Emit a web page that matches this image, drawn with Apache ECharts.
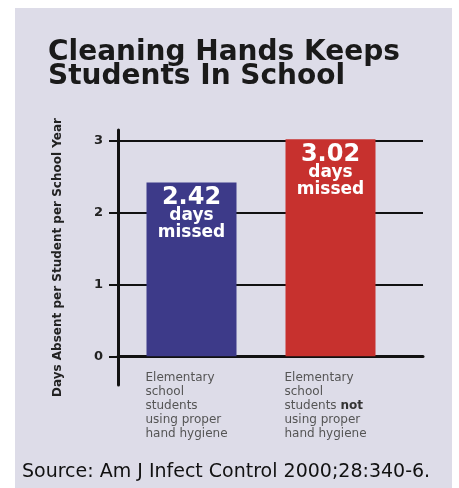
<!DOCTYPE html>
<html>
<head>
<meta charset="utf-8">
<script src="https://cdn.jsdelivr.net/npm/echarts@6/dist/echarts.min.js"></script>
<style>
  html, body { margin: 0; padding: 0; background: #ffffff; }
  #chart { position: absolute; left: 15px; top: 8px; width: 437px; height: 480px; }
</style>
</head>
<body>
<div id="chart"></div>
<script>
// data
const categories = [
    'Elementary\nschool\nstudents\nusing proper\nhand hygiene',
    'Elementary\nschool\nstudents not\nusing proper\nhand hygiene'
];
const daysMissed = [2.42, 3.02];
const yTicks = [0, 1, 2, 3];
const titleText = 'Cleaning Hands Keeps\nStudents In School';
const yName = 'Days Absent per Student per School Year';
const sourceText = 'Source: Am J Infect Control 2000;28:340-6.';

const barColors = ['#3d3a89', '#c7312e'];
const font = 'DejaVu Sans';

// category text -> rich tokens, "not" in bold
function catLabel(value) {
    return value.split('\n').map(line => {
        if (line.endsWith(' not')) {
            return '{t|' + line.slice(0, -4) + ' }{b|not}';
        }
        return '{t|' + line + '}';
    }).join('\n');
}

const chart = echarts.init(document.getElementById('chart'));
chart.setOption({
    animation: false,
    backgroundColor: '#dddce8',
    textStyle: { fontFamily: font },
    title: [
        {
            text: titleText,
            left: 28,
            top: 28,
            textStyle: { fontFamily: font, fontSize: 28, fontWeight: 'bold', color: '#1a1a1a', lineHeight: 24 }
        },
        {
            text: sourceText,
            left: 2,
            top: 450,
            textStyle: { fontFamily: font, fontSize: 19, fontWeight: 'normal', color: '#111' }
        }
    ],
    grid: [
        { left: 103, right: 29, top: 122, bottom: 103 },
        { left: 107, right: 52, top: 122, bottom: 103 }
    ],
    xAxis: [
        {
            gridIndex: 0,
            type: 'category',
            data: categories,
            axisLine: { onZero: true, lineStyle: { color: '#111', width: 3 } },
            axisTick: { show: false },
            axisLabel: { show: false }
        },
        {
            gridIndex: 1,
            type: 'category',
            data: categories,
            axisLine: { show: false, onZero: true },
            axisTick: { show: false },
            axisLabel: {
                show: true,
                interval: 0,
                margin: -14,
                align: 'center',
                width: 92,
                formatter: catLabel,
                rich: {
                    t: { align: 'left', fontFamily: font, fontSize: 12, color: '#555', lineHeight: 14 },
                    b: { align: 'left', fontFamily: font, fontSize: 12, fontWeight: 'bold', color: '#333', lineHeight: 14 }
                }
            }
        }
    ],
    yAxis: [
        {
            gridIndex: 0,
            type: 'value',
            min: -0.4,
            max: 3.15,
            name: yName,
            nameLocation: 'middle',
            nameGap: 54,
            nameTextStyle: { fontFamily: font, fontSize: 12, fontWeight: 'bold', color: '#222' },
            axisLine: { show: true, lineStyle: { color: '#111', width: 3 } },
            axisTick: { show: true, length: 9, customValues: yTicks, lineStyle: { color: '#111', width: 2 } },
            axisLabel: { customValues: yTicks, margin: 15, fontFamily: font, fontSize: 13, fontWeight: 'bold', color: '#222' },
            splitLine: { show: true, lineStyle: { color: '#111', width: 2 } }
        },
        {
            gridIndex: 1,
            type: 'value',
            min: -0.4,
            max: 3.15,
            show: false,
            splitLine: { show: false }
        }
    ],
    series: [
        {
            type: 'bar',
            xAxisIndex: 1,
            yAxisIndex: 1,
            barWidth: 90,
            data: daysMissed.map((v, i) => ({ value: v, itemStyle: { color: barColors[i] } })),
            label: {
                show: true,
                position: 'insideTop',
                distance: 5,
                formatter: p => '{v|' + p.value.toFixed(2) + '}\n{d|days}\n{d|missed}',
                rich: {
                    v: { fontFamily: font, fontSize: 24, fontWeight: 'bold', color: '#fff', lineHeight: 20 },
                    d: { fontFamily: font, fontSize: 17, fontWeight: 'bold', color: '#fff', lineHeight: 17 }
                }
            }
        }
    ]
});
</script>
</body>
</html>
